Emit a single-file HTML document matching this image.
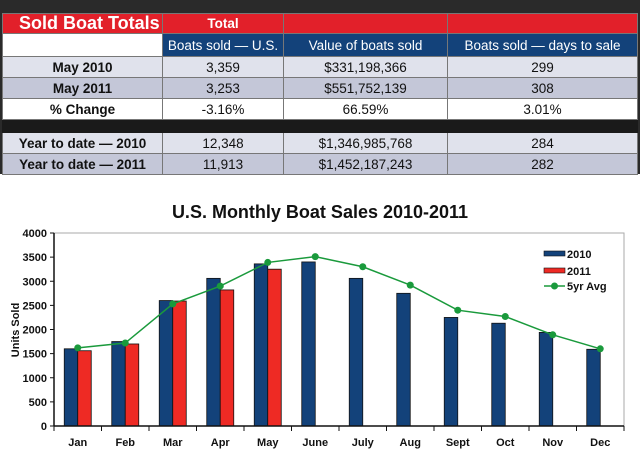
<!DOCTYPE html>
<html><head><meta charset="utf-8"><style>
body{margin:0;width:640px;height:454px;background:#fff;font-family:"Liberation Sans",Arial,sans-serif;overflow:hidden;position:relative}
#tbl{position:absolute;left:0;top:0;width:640px;height:174px;background:#2a2a2a}
table{position:absolute;left:2px;top:13px;border-collapse:collapse;width:636px;table-layout:fixed}
td{border:1px solid #777;text-align:center;font-size:13.5px;padding:0;height:20px;line-height:19px;color:#111;white-space:nowrap;overflow:hidden}
.r td{background:#e2202a;color:#fff;font-weight:bold;height:19px}
.b td{background:#13427a;color:#fff;font-size:13.5px;height:22px}
.l td{background:#e0e2ec}.d td{background:#c4c7d8}.w td{background:#fff}
td.h{font-weight:bold}
.blk td{background:#1a1a1a;height:12px;border-color:#1a1a1a}
</style></head><body>
<div id="tbl">
<table>
<colgroup><col style="width:160px"><col style="width:121px"><col style="width:164px"><col></colgroup>
<tr class="r"><td style="font-size:18px;text-align:left;padding-left:16px">Sold Boat Totals</td><td>Total</td><td></td><td></td></tr>
<tr class="b"><td style="background:#fff"></td><td>Boats sold — U.S.</td><td>Value of boats sold</td><td>Boats sold — days to sale</td></tr>
<tr class="l"><td class="h">May 2010</td><td>3,359</td><td>$331,198,366</td><td>299</td></tr>
<tr class="d"><td class="h">May 2011</td><td>3,253</td><td>$551,752,139</td><td>308</td></tr>
<tr class="w"><td class="h">% Change</td><td>-3.16%</td><td>66.59%</td><td>3.01%</td></tr>
<tr class="blk"><td></td><td></td><td></td><td></td></tr>
<tr class="l"><td class="h">Year to date — 2010</td><td>12,348</td><td>$1,346,985,768</td><td>284</td></tr>
<tr class="d"><td class="h">Year to date — 2011</td><td>11,913</td><td>$1,452,187,243</td><td>282</td></tr>
</table></div>
<svg id="ch" width="640" height="454" style="position:absolute;left:0;top:0"></svg>
<script>
const months=["Jan","Feb","Mar","Apr","May","June","July","Aug","Sept","Oct","Nov","Dec"];
const s2010=[1600,1750,2600,3060,3360,3400,3060,2750,2250,2130,1940,1590];
const s2011=[1560,1700,2590,2820,3250];
const avg5=[1620,1720,2530,2900,3390,3510,3300,2920,2400,2270,1890,1600];
const yTicks=[0,500,1000,1500,2000,2500,3000,3500,4000];
const svg=document.getElementById('ch');const NS='http://www.w3.org/2000/svg';
const X0=54,X1=624,Y0=426,Y1=233,cw=(X1-X0)/12;
const y=v=>Y0-(v/4000)*(Y0-Y1);const xc=i=>X0+cw*(i+0.5);
function mk(t,a,p){const e=document.createElementNS(NS,t);for(const k in a)e.setAttribute(k,a[k]);(p||svg).appendChild(e);return e;}
let t=mk('text',{x:320,y:218,'text-anchor':'middle','font-size':18,'font-weight':'bold',fill:'#111'});t.textContent='U.S. Monthly Boat Sales 2010-2011';


t=mk('text',{transform:'translate(19,330) rotate(-90)','text-anchor':'middle','font-size':11,'font-weight':'bold',fill:'#111'});t.textContent='Units Sold';


mk('polyline',{points:`${X0},${Y1} ${X1},${Y1} ${X1},${Y0}`,fill:'none',stroke:'#aaa','stroke-width':1});
yTicks.forEach(v=>{mk('line',{x1:X0-4,x2:X0,y1:y(v),y2:y(v),stroke:'#111'});const tt=mk('text',{x:X0-7,y:y(v)+4,'text-anchor':'end','font-size':11,'font-weight':'bold',fill:'#111'});tt.textContent=v;

});
const bw=13.5;
s2010.forEach((v,i)=>{const r=mk('rect',{x:xc(i)-bw,y:y(v),width:bw,height:Y0-y(v),fill:'#13427a',stroke:'#111','stroke-width':0.8});

});
s2011.forEach((v,i)=>{const r=mk('rect',{x:xc(i),y:y(v),width:bw,height:Y0-y(v),fill:'#ee2a24',stroke:'#111','stroke-width':0.8});

});
mk('line',{x1:X0,x2:X0,y1:Y1,y2:Y0,stroke:'#111','stroke-width':1.5});
mk('line',{x1:X0,x2:X1,y1:Y0,y2:Y0,stroke:'#111','stroke-width':1.5});
for(let i=0;i<=12;i++)mk('line',{x1:X0+cw*i,x2:X0+cw*i,y1:Y0,y2:Y0+5,stroke:'#111'});
months.forEach((m,i)=>{const tt=mk('text',{x:xc(i),y:446,'text-anchor':'middle','font-size':11,'font-weight':'bold',fill:'#111'});tt.textContent=m;

});
const ln=mk('polyline',{points:avg5.map((v,i)=>xc(i)+','+y(v)).join(' '),fill:'none',stroke:'#1a9a3c','stroke-width':1.5});


avg5.forEach((v,i)=>{const c=mk('circle',{cx:xc(i),cy:y(v),r:3.5,fill:'#1a9a3c'});

});
const lg=mk('g',{});


mk('rect',{x:544,y:251,width:21,height:5,fill:'#13427a',stroke:'#111','stroke-width':0.6},lg);
mk('rect',{x:544,y:268,width:21,height:5,fill:'#ee2a24',stroke:'#111','stroke-width':0.6},lg);
mk('line',{x1:544,x2:565,y1:286,y2:286,stroke:'#1a9a3c','stroke-width':1.5},lg);
mk('circle',{cx:554.5,cy:286,r:3.5,fill:'#1a9a3c'},lg);
[['2010',258],['2011',275],['5yr Avg',290]].forEach(([s,yy])=>{const tt=mk('text',{x:567,y:yy,'font-size':11,'font-weight':'bold',fill:'#111'},lg);tt.textContent=s;});
</script>
</body></html>
